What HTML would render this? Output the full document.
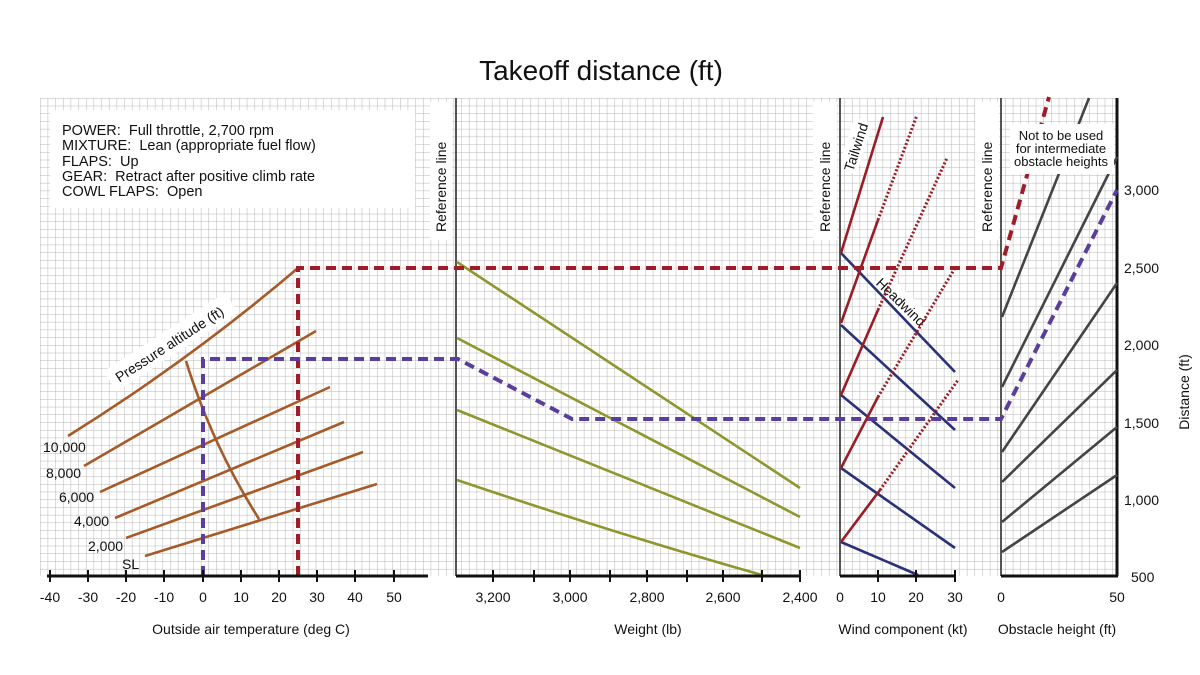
<!DOCTYPE html>
<html><head><meta charset="utf-8"><style>
html,body{margin:0;padding:0;background:#fff;}
svg{display:block;font-family:"Liberation Sans",Arial,sans-serif;}
</style></head><body>
<svg width="1200" height="675" viewBox="0 0 1200 675" xmlns="http://www.w3.org/2000/svg">
<defs>
<pattern id="g" x="40" y="98" width="7.66" height="7.72" patternUnits="userSpaceOnUse">
<path d="M0 0V7.72M0 0H7.66" stroke="#b6b6b6" stroke-width="1" fill="none"/>
</pattern>
</defs>
<rect width="1200" height="675" fill="#fff"/>
<rect x="40" y="98" width="1077" height="478" fill="url(#g)"/>
<text x="601" y="80" font-size="28" text-anchor="middle" fill="#111">Takeoff distance (ft)</text>

<!-- white boxes -->
<rect x="50" y="110" width="365" height="98" fill="#fff"/>
<rect x="430" y="102" width="22" height="138" fill="#fff"/>
<rect x="813" y="102" width="24" height="138" fill="#fff"/>
<rect x="975" y="102" width="24" height="138" fill="#fff"/>
<g transform="translate(170,345) rotate(-33)"><rect x="-70" y="-14" width="145" height="24" fill="#fff"/><text x="0" y="4" font-size="14" text-anchor="middle" fill="#111">Pressure altitude (ft)</text></g>
<g transform="translate(856,147) rotate(-72)"><rect x="-26" y="-11" width="54" height="20" fill="#fff"/><text x="0" y="5" font-size="14" text-anchor="middle" fill="#111">Tailwind</text></g>
<g transform="translate(901,302) rotate(44)"><rect x="-33" y="-11" width="66" height="20" fill="#fff"/><text x="0" y="5" font-size="14" text-anchor="middle" fill="#111">Headwind</text></g>

<g font-size="14.5" fill="#111">
<text x="62" y="135">POWER:&#160; Full throttle, 2,700 rpm</text>
<text x="62" y="150">MIXTURE:&#160; Lean (appropriate fuel flow)</text>
<text x="62" y="166">FLAPS:&#160; Up</text>
<text x="62" y="181">GEAR:&#160; Retract after positive climb rate</text>
<text x="62" y="196">COWL FLAPS:&#160; Open</text>
</g>
<g font-size="14" fill="#111">
<text transform="translate(446,232) rotate(-90)">Reference line</text>
<text transform="translate(830,232) rotate(-90)">Reference line</text>
<text transform="translate(992,232) rotate(-90)">Reference line</text>
<text x="43" y="452">10,000</text><text x="46" y="478">8,000</text><text x="59" y="502">6,000</text><text x="74" y="526">4,000</text><text x="88" y="551">2,000</text><text x="122" y="569">SL</text>
</g>

<!-- vertical lines -->
<g stroke-width="2">
<line x1="456" y1="98" x2="456" y2="576" stroke="#555"/>
<line x1="840" y1="98" x2="840" y2="576" stroke="#555"/>
<line x1="1001" y1="98" x2="1001" y2="576" stroke="#555"/>
<line x1="1117" y1="98" x2="1117" y2="576" stroke="#111" stroke-width="3"/>
</g>

<!-- temperature lines -->
<g stroke="#a65a28" stroke-width="2.6" fill="none">
<path d="M68 436 Q190 360 298 268"/>
<line x1="84" y1="466" x2="316" y2="331"/>
<line x1="100" y1="492" x2="330" y2="387"/>
<line x1="115" y1="518" x2="344" y2="422"/>
<line x1="126" y1="538" x2="363" y2="452"/>
<line x1="145" y1="556" x2="377" y2="484"/>
<path d="M186 361 Q212 445 259 519"/>
</g>
<!-- weight lines -->
<g stroke="#8f962e" stroke-width="2.6">
<line x1="457" y1="262" x2="800" y2="488"/>
<line x1="457" y1="338" x2="800" y2="517"/>
<line x1="457" y1="410" x2="800" y2="548"/>
<path d="M457 480 Q620 535 762 575" fill="none"/>
</g>
<!-- wind lines -->
<g stroke="#2b3178" stroke-width="2.6">
<line x1="841" y1="253" x2="955" y2="372"/>
<line x1="841" y1="325" x2="955" y2="430"/>
<line x1="841" y1="395" x2="955" y2="488"/>
<line x1="841" y1="468" x2="955" y2="548"/>
<line x1="841" y1="542" x2="918" y2="575"/>
</g>
<g stroke="#9a1c24" stroke-width="2.6">
<line x1="841" y1="253" x2="883" y2="117"/>
<line x1="841" y1="323" x2="878" y2="220"/>
<line x1="841" y1="395" x2="878" y2="310"/>
<line x1="841" y1="468" x2="878" y2="397"/>
<line x1="841" y1="542" x2="880" y2="490"/>
</g>
<g stroke="#9a1c24" stroke-width="3" stroke-dasharray="2 2">
<line x1="878" y1="220" x2="917" y2="115"/>
<line x1="878" y1="310" x2="947" y2="158"/>
<line x1="878" y1="397" x2="955" y2="268"/>
<line x1="880" y1="490" x2="958" y2="380"/>
</g>
<!-- obstacle lines -->
<g stroke="#444" stroke-width="2.6">
<line x1="1002" y1="317" x2="1089" y2="98"/>
<line x1="1002" y1="387" x2="1117" y2="157"/>
<line x1="1002" y1="452" x2="1117" y2="283"/>
<line x1="1002" y1="482" x2="1117" y2="370"/>
<line x1="1002" y1="522" x2="1117" y2="427"/>
<line x1="1002" y1="552" x2="1117" y2="475"/>
</g>

<!-- dashed paths -->
<g fill="none" stroke-width="4" stroke-dasharray="10 6">
<path d="M298 576 V268 H1001 L1049 97" stroke="#a01c28"/>
<path d="M203 576 V359 H458 L572 419 H1001 L1117 190" stroke="#5a3d9c"/>
</g>

<rect x="1010" y="124" width="104" height="50" fill="#fff"/>
<g font-size="13" text-anchor="middle" fill="#111"><text x="1061" y="140">Not to be used</text><text x="1061" y="153">for intermediate</text><text x="1061" y="166">obstacle heights</text></g>

<!-- axes -->
<g stroke="#111" stroke-width="3">
<line x1="47" y1="576" x2="428" y2="576"/>
<line x1="456" y1="576" x2="801" y2="576"/>
<line x1="840" y1="576" x2="956" y2="576"/>
<line x1="1001" y1="576" x2="1118" y2="576"/>
</g>
<g stroke="#111" stroke-width="2">
<path d="M50 570V582M88 570V582M126 570V582M164 570V582M203 570V582M241 570V582M279 570V582M317 570V582M355 570V582M394 570V582"/>
<path d="M493 570V582M534 570V582M570 570V582M610 570V582M647 570V582M687 570V582M723 570V582M762 570V582M800 570V582"/>
<path d="M878 570V582M916 570V582M955 570V582"/>
</g>
<g font-size="14" fill="#111" text-anchor="middle">
<text x="50" y="602">-40</text><text x="88" y="602">-30</text><text x="126" y="602">-20</text><text x="164" y="602">-10</text><text x="203" y="602">0</text><text x="241" y="602">10</text><text x="279" y="602">20</text><text x="317" y="602">30</text><text x="355" y="602">40</text><text x="394" y="602">50</text>
<text x="493" y="602">3,200</text><text x="570" y="602">3,000</text><text x="647" y="602">2,800</text><text x="723" y="602">2,600</text><text x="800" y="602">2,400</text>
<text x="840" y="602">0</text><text x="878" y="602">10</text><text x="916" y="602">20</text><text x="955" y="602">30</text>
<text x="1001" y="602">0</text><text x="1117" y="602">50</text>
<text x="251" y="634">Outside air temperature (deg C)</text>
<text x="648" y="634">Weight (lb)</text>
<text x="903" y="634">Wind component (kt)</text>
<text x="1057" y="634">Obstacle height (ft)</text>
</g>
<g font-size="14" fill="#111">
<text x="1124" y="195">3,000</text><text x="1124" y="273">2,500</text><text x="1124" y="350">2,000</text><text x="1124" y="428">1,500</text><text x="1124" y="505">1,000</text><text x="1131" y="582">500</text>
<text transform="translate(1189,392) rotate(-90)" text-anchor="middle">Distance (ft)</text>
</g>
</svg>
</body></html>
